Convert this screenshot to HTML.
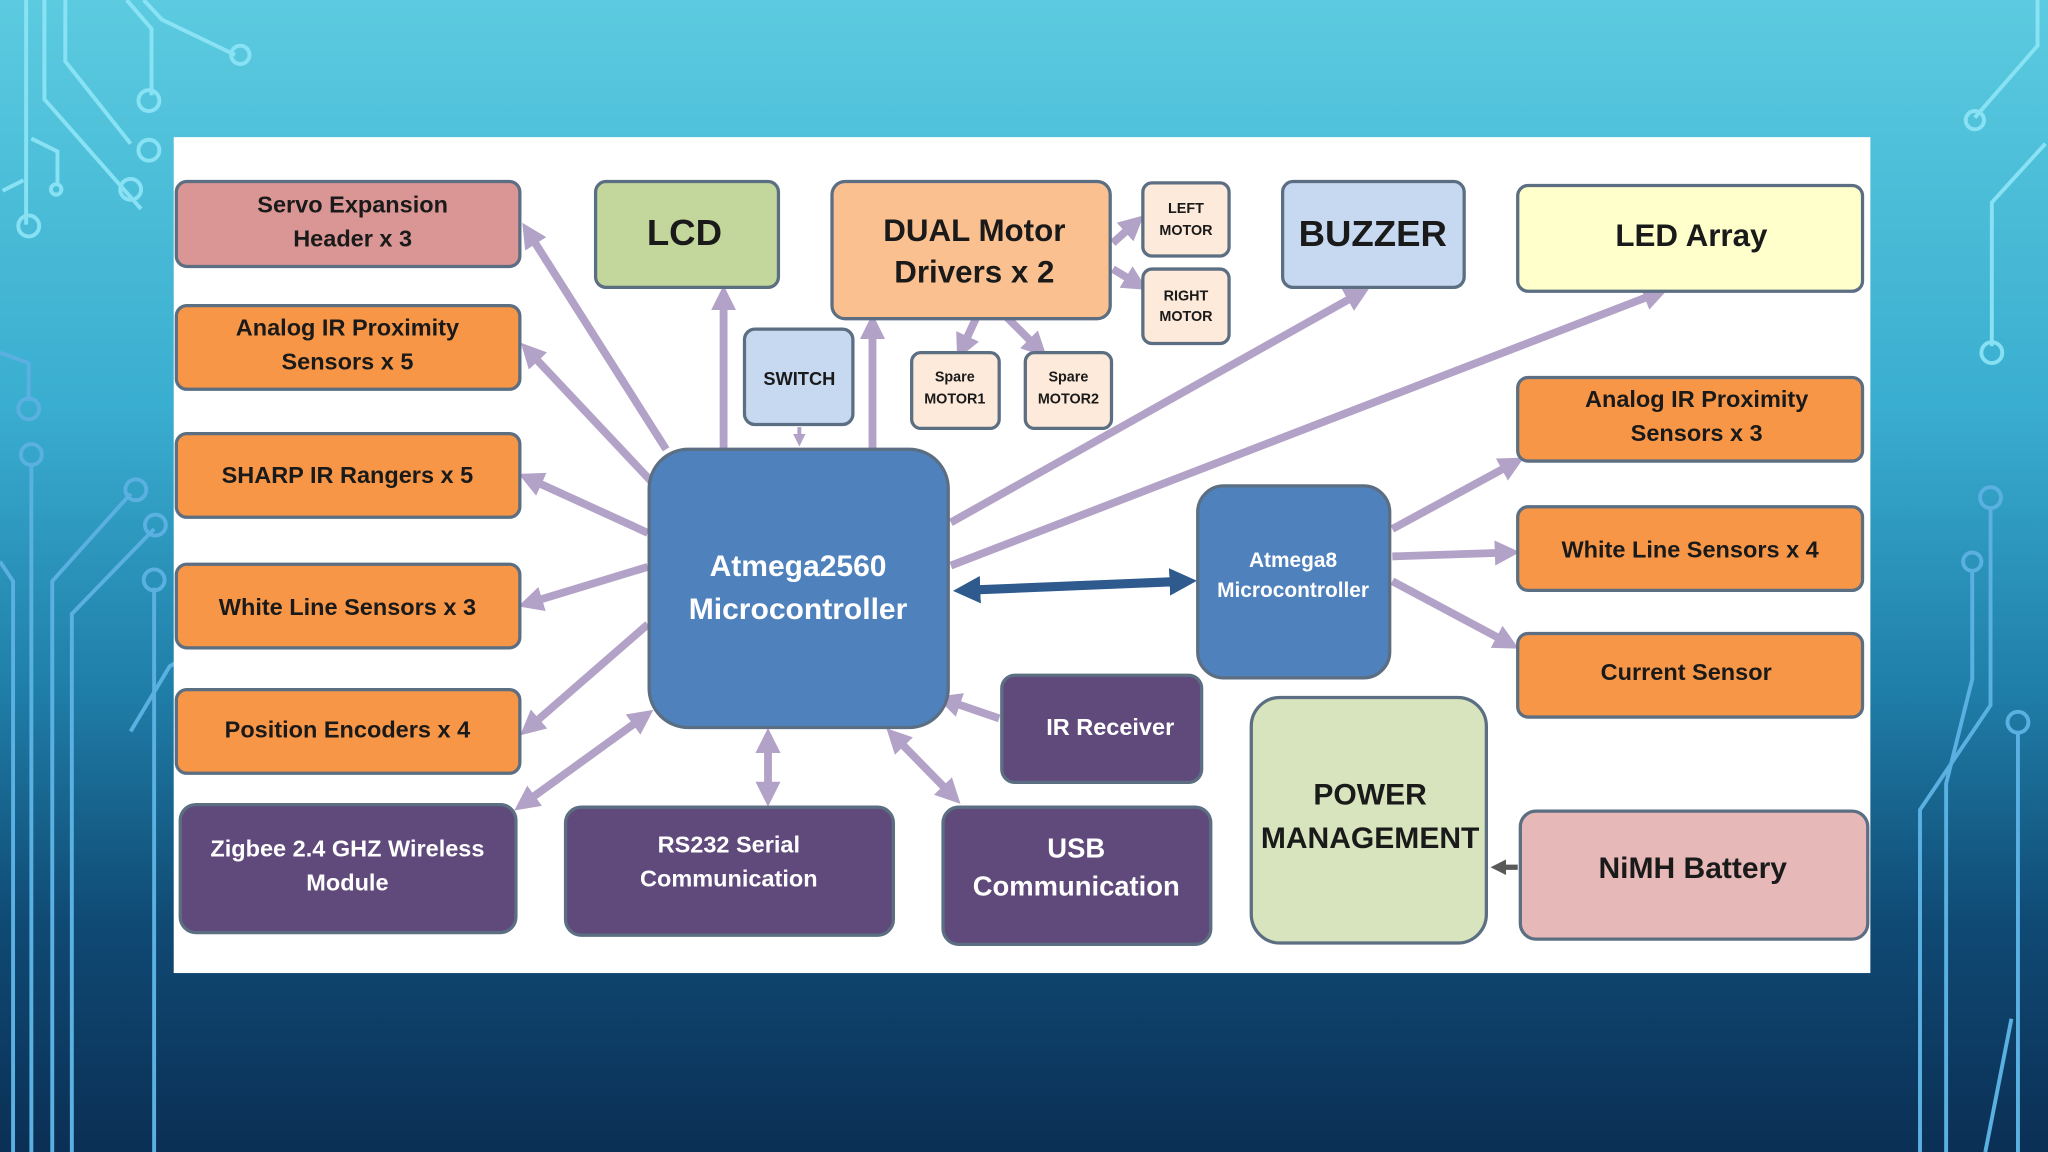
<!DOCTYPE html>
<html><head><meta charset="utf-8"><style>
html,body{margin:0;padding:0;width:2048px;height:1152px;overflow:hidden;background:#134a6e}
svg{display:block}
text{font-family:"Liberation Sans",sans-serif;font-weight:bold;text-anchor:middle;dominant-baseline:middle}
</style></head><body>
<svg width="2048" height="1152" viewBox="0 0 1568 882" xmlns="http://www.w3.org/2000/svg">
<defs>
<linearGradient id="bg" x1="0" y1="0" x2="0" y2="1">
<stop offset="0" stop-color="#5ccbe0"/><stop offset="0.35" stop-color="#3aaed0"/>
<stop offset="0.6" stop-color="#1f7ea8"/><stop offset="0.8" stop-color="#0f4a74"/><stop offset="1" stop-color="#0b2f55"/>
</linearGradient>
<marker id="ah" viewBox="0 0 10 10" refX="6" refY="5" markerWidth="3.2" markerHeight="3.2" orient="auto-start-reverse"><path d="M0,0L10,5L0,10z" fill="#b3a2c7"/></marker>
<marker id="bh" viewBox="0 0 10 10" refX="6" refY="5" markerWidth="3" markerHeight="3" orient="auto-start-reverse"><path d="M0,0L10,5L0,10z" fill="#2e5a8e"/></marker>
<marker id="gh" viewBox="0 0 10 10" refX="6" refY="5" markerWidth="3" markerHeight="3" orient="auto"><path d="M0,0L10,5L0,10z" fill="#595959"/></marker>
</defs>
<rect width="1568" height="882" fill="url(#bg)"/>
<g fill="none" stroke="#8fe6f7" stroke-width="3" opacity="0.9">
<path d="M20,0V172"/><path d="M34,0V76L108,160"/><path d="M50,0V47L100,110"/><path d="M97,0L116,22V73"/><path d="M110,0L124,15L180,42"/>
<path d="M24,106L44,116V142"/><path d="M2,146L18,138"/>
<circle cx="22" cy="173" r="8"/><circle cx="114" cy="77" r="8"/><circle cx="114" cy="115" r="8"/><circle cx="100" cy="145" r="8"/><circle cx="43" cy="145" r="4"/><circle cx="184" cy="42" r="7"/>
</g>
<g fill="none" stroke="#5ab0e0" stroke-width="3">
<path d="M0,270L22,278V307"/><circle cx="22" cy="313" r="8"/>
<path d="M24,355V882"/><circle cx="24" cy="348" r="8"/>
<path d="M100,378L40,445V882"/><circle cx="104" cy="375" r="8"/>
<path d="M118,405L55,470V882"/><circle cx="119" cy="402" r="8"/>
<path d="M118,450V882"/><circle cx="118" cy="444" r="8"/>
<path d="M185,480L130,510L100,560"/><circle cx="189" cy="479" r="7"/>
<path d="M0,430L10,445V882"/>
</g>
<g fill="none" stroke="#8fe6f7" stroke-width="3" opacity="0.9">
<path d="M1560,0V35L1512,90"/><circle cx="1512" cy="92" r="7"/>
<path d="M1550,0"/><path d="M1566,110L1525,155L1525,265"/><circle cx="1525" cy="270" r="8"/>
</g>
<g fill="none" stroke="#5ab0e0" stroke-width="3">
<path d="M1524,388V540L1470,620V882"/><circle cx="1524" cy="381" r="8"/>
<path d="M1510,436V520L1490,600V882"/><circle cx="1510" cy="430" r="7"/>
<path d="M1545,560V882"/><circle cx="1545" cy="553" r="8"/>
<path d="M1540,780L1520,882"/>
</g>
<rect x="133" y="105" width="1299" height="640" fill="#fff"/>
<g stroke="#b3a2c7" stroke-width="6" fill="none" marker-end="url(#ah)">
<path d="M510,344L404,177"/><path d="M500,370L404,268"/><path d="M496,408L404,366"/><path d="M496,434L404,462"/><path d="M496,478L404,558"/>
<path d="M554,344V226"/><path d="M668,344V248"/>
<path d="M728,400L1042,224"/><path d="M728,433L1270,224"/>
<path d="M1066,405L1160,354"/><path d="M1066,426L1156,423"/><path d="M1066,445L1156,493"/>
<path d="M765,550L724,536"/>
<path d="M748,242L736,268"/><path d="M770,242L796,268"/>
<path d="M852,186L870,170"/><path d="M852,206L872,218"/>
</g>
<g stroke="#b3a2c7" stroke-width="6" fill="none" marker-end="url(#ah)" marker-start="url(#ah)">
<path d="M494,548L400,616"/><path d="M588,565V610"/><path d="M684,563L730,610"/>
</g>
<path d="M612,327V338" stroke="#b3a2c7" stroke-width="3" marker-end="url(#ah)"/>
<path d="M738,452L908,445" stroke="#2e5a8e" stroke-width="7" marker-end="url(#bh)" marker-start="url(#bh)"/>
<path d="M1162,664H1146" stroke="#595959" stroke-width="4" marker-end="url(#gh)"/>
<g stroke="#5b6e82" stroke-width="2.5">
<rect x="135" y="139" width="263" height="65" rx="8" fill="#d99694"/>
<rect x="135" y="234" width="263" height="64" rx="8" fill="#f79646"/>
<rect x="135" y="332" width="263" height="64" rx="8" fill="#f79646"/>
<rect x="135" y="432" width="263" height="64" rx="8" fill="#f79646"/>
<rect x="135" y="528" width="263" height="64" rx="8" fill="#f79646"/>
<rect x="138" y="616" width="257" height="98" rx="12" fill="#604a7b"/>
<rect x="456" y="139" width="140" height="81" rx="8" fill="#c3d69b"/>
<rect x="637" y="139" width="213" height="105" rx="10" fill="#fac090"/>
<rect x="875" y="140" width="66" height="56" rx="7" fill="#fdeada"/>
<rect x="875" y="206" width="66" height="57" rx="7" fill="#fdeada"/>
<rect x="982" y="139" width="139" height="81" rx="8" fill="#c6d9f1"/>
<rect x="1162" y="142" width="264" height="81" rx="8" fill="#ffffcc"/>
<rect x="570" y="252" width="83" height="73" rx="8" fill="#c6d9f1"/>
<rect x="698" y="270" width="67" height="58" rx="7" fill="#fdeada"/>
<rect x="785" y="270" width="66" height="58" rx="7" fill="#fdeada"/>
<rect x="497" y="344" width="229" height="213" rx="30" fill="#4f81bd"/>
<rect x="917" y="372" width="147" height="147" rx="20" fill="#4f81bd"/>
<rect x="1162" y="289" width="264" height="64" rx="8" fill="#f79646"/>
<rect x="1162" y="388" width="264" height="64" rx="8" fill="#f79646"/>
<rect x="1162" y="485" width="264" height="64" rx="8" fill="#f79646"/>
<rect x="767" y="517" width="153" height="82" rx="10" fill="#604a7b"/>
<rect x="958" y="534" width="180" height="188" rx="22" fill="#d7e4bd"/>
<rect x="1164" y="621" width="266" height="98" rx="12" fill="#e6b9b8"/>
<rect x="433" y="618" width="251" height="98" rx="12" fill="#604a7b"/>
<rect x="722" y="618" width="205" height="105" rx="12" fill="#604a7b"/>
</g>
<g fill="#1a1a1a" font-size="18">
<text x="270" y="158">Servo Expansion</text><text x="270" y="184">Header x 3</text>
<text x="266" y="252">Analog IR Proximity</text><text x="266" y="278">Sensors x 5</text>
<text x="266" y="365">SHARP IR Rangers x 5</text>
<text x="266" y="466">White Line Sensors  x  3</text>
<text x="266" y="560">Position Encoders x 4</text>
<text x="1299" y="307">Analog IR Proximity</text><text x="1299" y="333">Sensors x 3</text>
<text x="1294" y="422">White Line Sensors  x  4</text>
<text x="1291" y="516">Current Sensor</text>
<text x="524" y="180" font-size="28">LCD</text>
<text x="746" y="178" font-size="24">DUAL Motor</text><text x="746" y="210" font-size="24">Drivers x 2</text>
<text x="1051" y="181" font-size="28">BUZZER</text>
<text x="1295" y="182" font-size="24">LED Array</text>
<text x="1049" y="610" font-size="23">POWER</text><text x="1049" y="643" font-size="23">MANAGEMENT</text>
<text x="1296" y="666" font-size="23">NiMH Battery</text>
<text x="612" y="291" font-size="14">SWITCH</text>
<g font-size="11" font-weight="normal"><text x="908" y="160">LEFT</text><text x="908" y="177">MOTOR</text>
<text x="908" y="227">RIGHT</text><text x="908" y="243">MOTOR</text>
<text x="731" y="289">Spare</text><text x="731" y="306">MOTOR1</text>
<text x="818" y="289">Spare</text><text x="818" y="306">MOTOR2</text></g>
</g>
<g fill="#fff">
<text x="611" y="435" font-size="23">Atmega2560</text><text x="611" y="468" font-size="23">Microcontroller</text>
<text x="990" y="430" font-size="16">Atmega8</text><text x="990" y="453" font-size="16">Microcontroller</text>
<text x="266" y="651" font-size="18">Zigbee 2.4 GHZ Wireless</text><text x="266" y="677" font-size="18">Module</text>
<text x="558" y="648" font-size="18">RS232 Serial</text><text x="558" y="674" font-size="18">Communication</text>
<text x="824" y="651" font-size="21">USB</text><text x="824" y="680" font-size="21">Communication</text>
<text x="850" y="558" font-size="18">IR Receiver</text>
</g>
</svg>
</body></html>
